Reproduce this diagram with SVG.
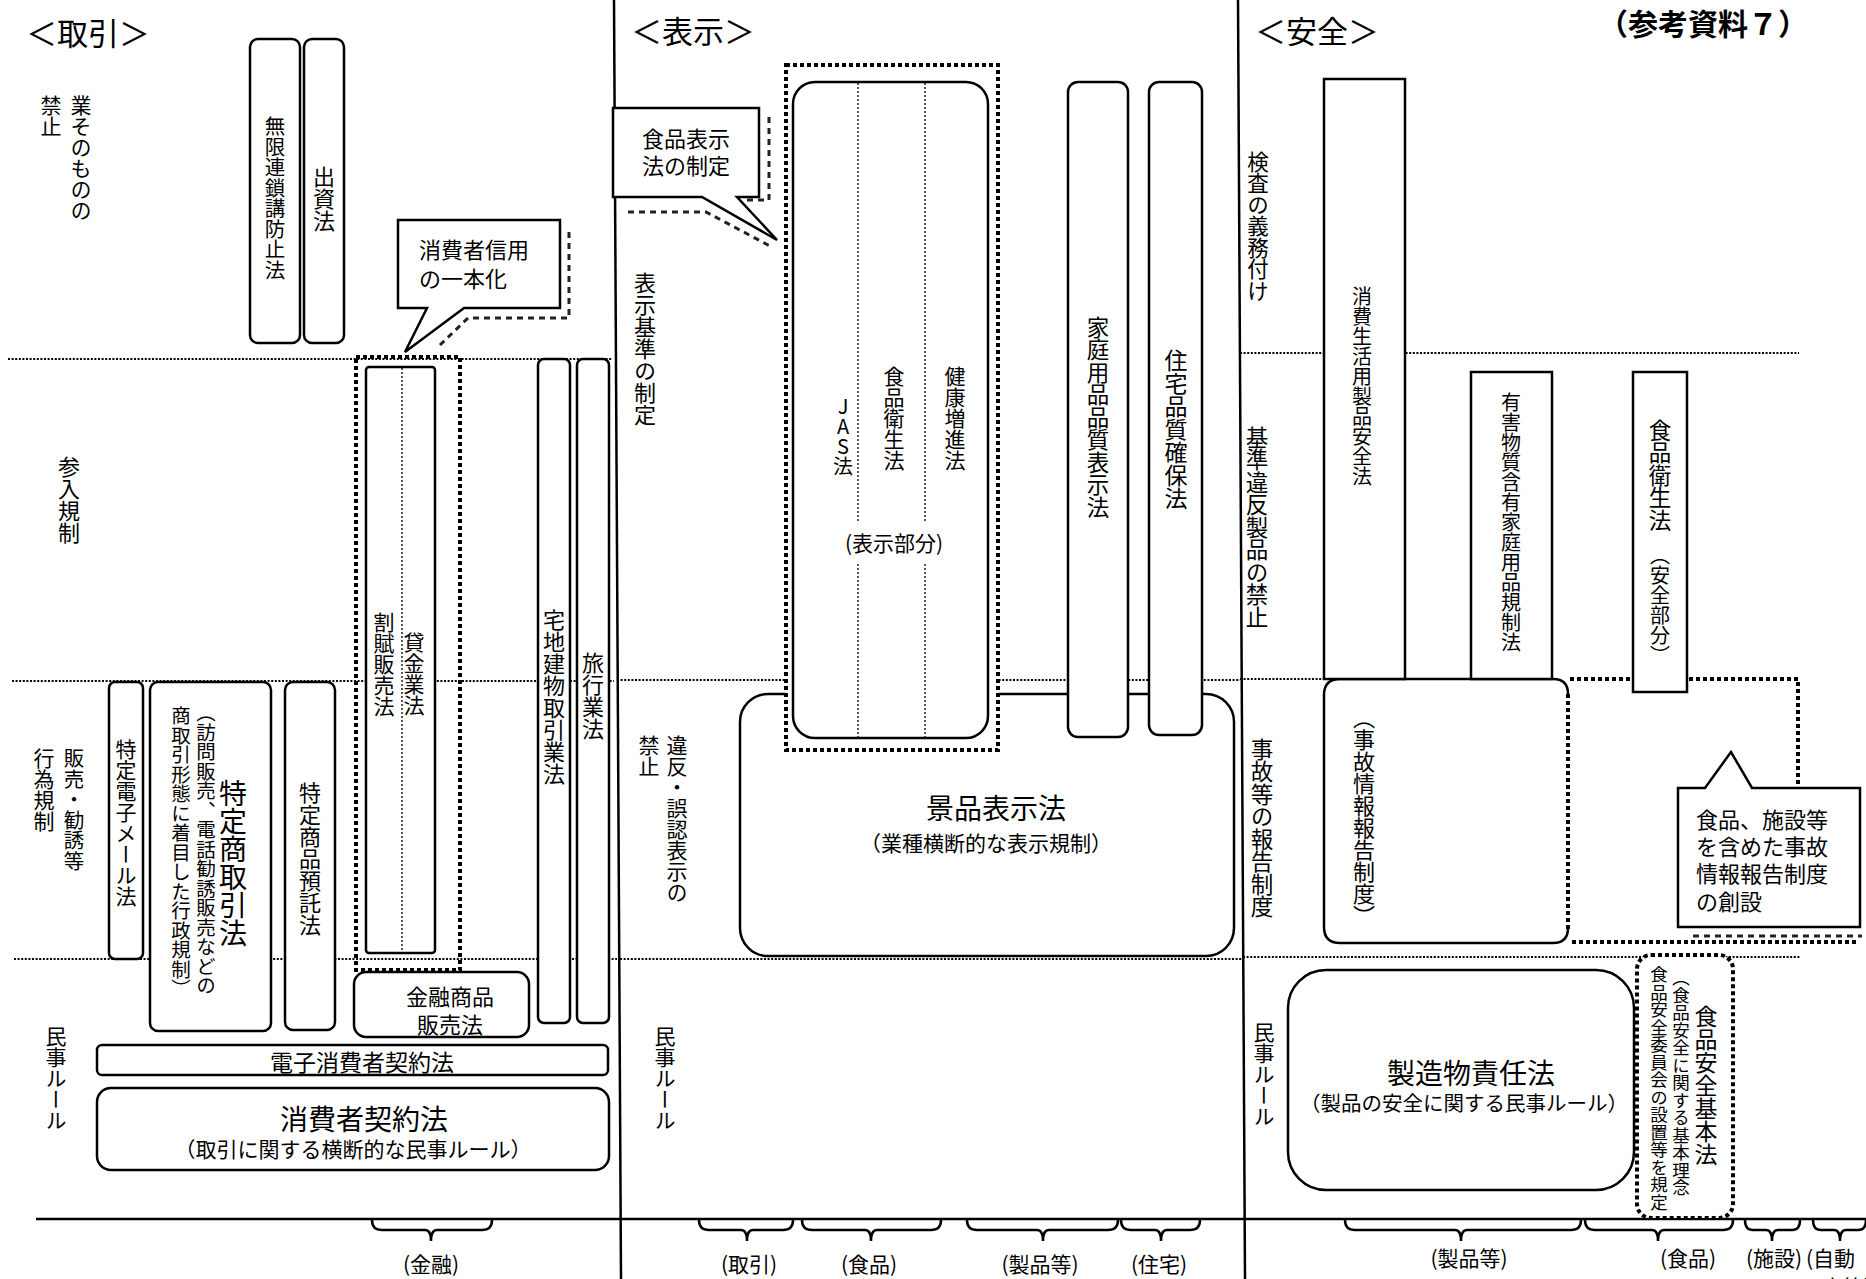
<svg xmlns="http://www.w3.org/2000/svg" width="1866" height="1279" viewBox="0 0 1866 1279">
<defs>
<style>
.t{font-family:"Noto Sans CJK JP","Noto Sans CJK SC",sans-serif;fill:#000;}
.v{writing-mode:vertical-rl;}
.h{text-anchor:middle;dominant-baseline:central;}
.s{dominant-baseline:central;}
.box{fill:#fff;stroke:#000;stroke-width:2.5;}
.sep{stroke:#000;stroke-width:2.5;fill:none;}
.row{stroke:#000;stroke-width:2;stroke-dasharray:2 1.6;fill:none;}
.dot{stroke:#000;stroke-width:4;stroke-dasharray:4 3;}
.thin{stroke:#000;stroke-width:1.3;stroke-dasharray:2 2;fill:none;}
.shadow{stroke:#222;stroke-width:3;stroke-dasharray:6 5;fill:none;}
.brace{stroke:#000;stroke-width:2.5;fill:none;}
</style>
</defs>
<rect width="1866" height="1279" fill="#fff"/>

<g id="grid">
<line class="sep" x1="614" y1="0" x2="621" y2="1279"/>
<line class="sep" x1="1238" y1="0" x2="1245" y2="1279"/>
<line class="sep" x1="36" y1="1219" x2="1866" y2="1219"/>
<line class="row" x1="8" y1="359" x2="612" y2="359"/>
<line class="row" x1="12" y1="681" x2="614" y2="681"/>
<line class="row" x1="14" y1="959" x2="617" y2="959"/>
<line class="row" x1="617" y1="680" x2="1240" y2="680"/>
<line class="row" x1="620" y1="959" x2="1242" y2="959"/>
<line class="row" x1="1240" y1="353" x2="1799" y2="353"/>
<line class="row" x1="1240" y1="679" x2="1326" y2="679"/>
<line class="row" x1="1243" y1="957" x2="1800" y2="957"/>
</g>

<g id="headers">
<text class="t s" x="26" y="31" font-size="31">＜取引＞</text>
<text class="t s" x="631" y="29" font-size="31">＜表示＞</text>
<text class="t s" x="1255" y="29" font-size="31">＜安全＞</text>
<text class="t s" x="1598" y="22" font-size="30" font-weight="bold">（参考資料７）</text>
</g>

<g id="row-labels">
<text class="t v" x="81" y="95" font-size="21">業そのものの</text>
<text class="t v" x="51" y="95" font-size="21">禁止</text>
<text class="t v" x="69" y="456" font-size="22">参入規制</text>
<text class="t v" x="74" y="748" font-size="20.5">販売・勧誘等</text>
<text class="t v" x="44" y="748" font-size="21">行為規制</text>
<text class="t v" x="56" y="1026" font-size="21">民事ルール</text>
<text class="t v" x="645" y="272" font-size="22">表示基準の制定</text>
<text class="t v" x="677" y="735" font-size="21">違反・誤認表示の</text>
<text class="t v" x="649" y="735" font-size="21">禁止</text>
<text class="t v" x="665" y="1026" font-size="21">民事ルール</text>
<text class="t v" x="1258" y="151" font-size="21.5">検査の義務付け</text>
<text class="t v" x="1257" y="426" font-size="22.5">基準違反製品の禁止</text>
<text class="t v" x="1262" y="738" font-size="22.5">事故等の報告制度</text>
<text class="t v" x="1264" y="1022" font-size="21">民事ルール</text>
</g>

<!-- LEFT SECTION -->
<g id="mugen">
<rect class="box" x="250" y="39" width="50" height="304" rx="8"/>
<text class="t v" x="275" y="116" font-size="20.5">無限連鎖講防止法</text>
</g>
<g id="shusshi">
<rect class="box" x="304" y="39" width="40" height="304" rx="8"/>
<text class="t v" x="324" y="166" font-size="22">出資法</text>
</g>
<g id="callout-shinyo">
<path class="shadow" d="M569,232 V318 H468 L440,345"/>
<polygon class="box" points="398,220 560,220 560,308 464,308 405,352 427,308 398,308"/>
<text class="t s" x="419" y="248" font-size="22">消費者信用</text>
<text class="t s" x="419" y="277" font-size="22">の一本化</text>
</g>
<g id="kappu-kashikin">
<rect class="dot" x="356" y="357" width="104" height="613" fill="none"/>
<rect class="box" x="366" y="367" width="69" height="586" rx="3"/>
<line class="thin" x1="402" y1="368" x2="402" y2="952"/>
<text class="t v" x="384" y="612" font-size="21">割賦販売法</text>
<text class="t v" x="414" y="632" font-size="21">貸金業法</text>
</g>
<g id="takuchi">
<rect class="box" x="538" y="359" width="32" height="664" rx="6"/>
<text class="t v" x="554" y="609" font-size="22">宅地建物取引業法</text>
</g>
<g id="ryoko">
<rect class="box" x="577" y="359" width="32" height="664" rx="6"/>
<text class="t v" x="593" y="652" font-size="22">旅行業法</text>
</g>
<g id="denshi-mail">
<rect class="box" x="109" y="682" width="34" height="277" rx="6"/>
<text class="t v" x="126" y="739" font-size="21">特定電子メール法</text>
</g>
<g id="tokutei-shotorihiki">
<rect class="box" x="150" y="682" width="121" height="349" rx="8"/>
<text class="t v" x="233" y="779" font-size="28">特定商取引法</text>
<text class="t v" x="206" y="703" font-size="19.5">（訪問販売、電話勧誘販売などの</text>
<text class="t v" x="181" y="706" font-size="19.5">商取引形態に着目した行政規制）</text>
</g>
<g id="yotaku">
<rect class="box" x="285" y="682" width="50" height="348" rx="8"/>
<text class="t v" x="310" y="782" font-size="22">特定商品預託法</text>
</g>
<g id="kinyu">
<rect class="box" x="354" y="972" width="175" height="65" rx="12"/>
<text class="t h" x="450" y="995" font-size="22">金融商品</text>
<text class="t h" x="450" y="1023" font-size="22">販売法</text>
</g>
<g id="denshi-keiyaku">
<rect class="box" x="97" y="1045" width="511" height="30" rx="5"/>
<text class="t h" x="362" y="1061" font-size="23">電子消費者契約法</text>
</g>
<g id="shohisha-keiyaku">
<rect class="box" x="97" y="1088" width="512" height="82" rx="14"/>
<text class="t h" x="364" y="1118" font-size="28">消費者契約法</text>
<text class="t h" x="353" y="1148" font-size="21">（取引に関する横断的な民事ルール）</text>
</g>

<!-- MIDDLE SECTION -->
<g id="keihin">
<rect class="box" x="740" y="694" width="494" height="262" rx="28"/>
<text class="t h" x="996" y="807" font-size="28">景品表示法</text>
<text class="t h" x="986" y="842" font-size="21">（業種横断的な表示規制）</text>
</g>
<g id="callout-shokuhin-hyoji">
<path class="shadow" d="M769,117 V200 H745 M628,212 H706 L770,246"/>
<polygon class="box" points="613,108 759,108 759,197 737,197 777,240 702,197 613,197"/>
<text class="t s" x="642" y="137" font-size="22">食品表示</text>
<text class="t s" x="642" y="164" font-size="22">法の制定</text>
</g>
<g id="jas-group">
<rect class="dot" x="786" y="65" width="212" height="685" fill="#fff"/>
<rect class="box" x="793" y="82" width="195" height="656" rx="22"/>
<line class="thin" x1="858" y1="83" x2="858" y2="521"/>
<line class="thin" x1="858" y1="564" x2="858" y2="737"/>
<line class="thin" x1="925" y1="83" x2="925" y2="521"/>
<line class="thin" x1="925" y1="564" x2="925" y2="737"/>
<text class="t v" x="843" y="396" font-size="20" style="text-orientation:upright">JAS法</text>
<text class="t v" x="894" y="366" font-size="21">食品衛生法</text>
<text class="t v" x="955" y="366" font-size="21">健康増進法</text>
<text class="t h" x="894" y="542" font-size="21">(表示部分)</text>
</g>
<g id="katei-hinshitsu">
<rect class="box" x="1068" y="82" width="60" height="655" rx="10"/>
<text class="t v" x="1098" y="316" font-size="22.5">家庭用品品質表示法</text>
</g>
<g id="jutaku">
<rect class="box" x="1149" y="82" width="53" height="653" rx="10"/>
<text class="t v" x="1176" y="349" font-size="23">住宅品質確保法</text>
</g>

<!-- RIGHT SECTION -->
<g id="jiko-joho">
<path class="sep" stroke-width="2.5" d="M1553,679 H1340 Q1324,679 1324,695 V927 Q1324,943 1340,943 H1553 Q1568,943 1568,928 M1553,679 Q1568,679 1568,694"/>
<text class="t v" x="1364" y="707" font-size="22">（事故情報報告制度）</text>
</g>
<g id="shohi-seikatsu">
<rect class="box" x="1324" y="79" width="81" height="600"/>
<text class="t v" x="1362" y="286" font-size="20">消費生活用製品安全法</text>
</g>
<g id="yugai">
<rect class="box" x="1471" y="372" width="81" height="307"/>
<text class="t v" x="1511" y="392" font-size="20">有害物質含有家庭用品規制法</text>
</g>
<g id="new-region">
<path class="dot" fill="none" d="M1570,679 H1798 V790 M1568,694 V930 M1572,942 H1856"/>
</g>
<g id="shokuhin-eisei-anzen">
<rect class="box" x="1633" y="372" width="54" height="320"/>
<text class="t v" x="1660" y="419" font-size="22.5">食品衛生法</text>
<text class="t v" x="1660" y="545" font-size="20">（安全部分）</text>
</g>
<g id="callout-jiko">
<path class="shadow" d="M1693,936 H1862"/>
<polygon class="box" points="1678,788 1705,788 1731,752 1752,788 1860,788 1860,927 1678,927"/>
<text class="t s" x="1696" y="818" font-size="22">食品、施設等</text>
<text class="t s" x="1696" y="845" font-size="22">を含めた事故</text>
<text class="t s" x="1696" y="872" font-size="22">情報報告制度</text>
<text class="t s" x="1696" y="900" font-size="22">の創設</text>
</g>
<g id="shokuhin-anzen-kihon">
<rect class="dot" x="1637" y="955" width="96" height="263" rx="14" fill="#fff"/>
<text class="t v" x="1706" y="1005" font-size="23">食品安全基本法</text>
<text class="t v" x="1681" y="969" font-size="17.5">（食品安全に関する基本理念</text>
<text class="t v" x="1659" y="966" font-size="17.5">食品安全委員会の設置等を規定</text>
</g>
<g id="seizobutsu">
<rect class="box" x="1288" y="970" width="346" height="220" rx="38"/>
<text class="t h" x="1471" y="1072" font-size="28">製造物責任法</text>
<text class="t h" x="1464" y="1102" font-size="20.5">（製品の安全に関する民事ルール）</text>
</g>

<g id="connectors">
<path class="brace" d="M372,1220 Q372,1230 382,1230 H425 Q431,1230 431,1241 Q431,1230 437,1230 H482 Q492,1230 492,1220"/>
<path class="brace" d="M699,1220 Q699,1230 709,1230 H741 Q747,1230 747,1241 Q747,1230 753,1230 H783 Q793,1230 793,1220"/>
<path class="brace" d="M802,1220 Q802,1230 812,1230 H865 Q871,1230 871,1241 Q871,1230 877,1230 H931 Q941,1230 941,1220"/>
<path class="brace" d="M967,1220 Q967,1230 977,1230 H1037 Q1043,1230 1043,1241 Q1043,1230 1049,1230 H1108 Q1118,1230 1118,1220"/>
<path class="brace" d="M1121,1220 Q1121,1230 1131,1230 H1155 Q1161,1230 1161,1241 Q1161,1230 1167,1230 H1190 Q1200,1230 1200,1220"/>
<path class="brace" d="M1345,1220 Q1345,1230 1355,1230 H1455 Q1461,1230 1461,1241 Q1461,1230 1467,1230 H1571 Q1581,1230 1581,1220"/>
<path class="brace" d="M1585,1220 Q1585,1230 1595,1230 H1652 Q1658,1230 1658,1241 Q1658,1230 1664,1230 H1723 Q1733,1230 1733,1220"/>
<path class="brace" d="M1745,1220 Q1745,1230 1753,1230 H1766 Q1772,1230 1772,1241 Q1772,1230 1778,1230 H1792 Q1800,1230 1800,1220"/>
<path class="brace" d="M1813,1220 Q1813,1230 1821,1230 H1834 Q1840,1230 1840,1241 Q1840,1230 1846,1230 H1858 Q1866,1230 1866,1220"/>
</g>

<g id="category-labels">
<text class="t h" x="431" y="1263" font-size="21">(金融)</text>
<text class="t h" x="749" y="1263" font-size="21">(取引)</text>
<text class="t h" x="869" y="1263" font-size="21">(食品)</text>
<text class="t h" x="1040" y="1263" font-size="21">(製品等)</text>
<text class="t h" x="1159" y="1263" font-size="21">(住宅)</text>
<text class="t h" x="1469" y="1257" font-size="21">(製品等)</text>
<text class="t h" x="1688" y="1257" font-size="21">(食品)</text>
<text class="t h" x="1774" y="1257" font-size="21">(施設)</text>
<text class="t s" x="1806" y="1257" font-size="21">(自動</text>
<text class="t s" x="1822" y="1286" font-size="21">車等)</text>
</g>
</svg>
